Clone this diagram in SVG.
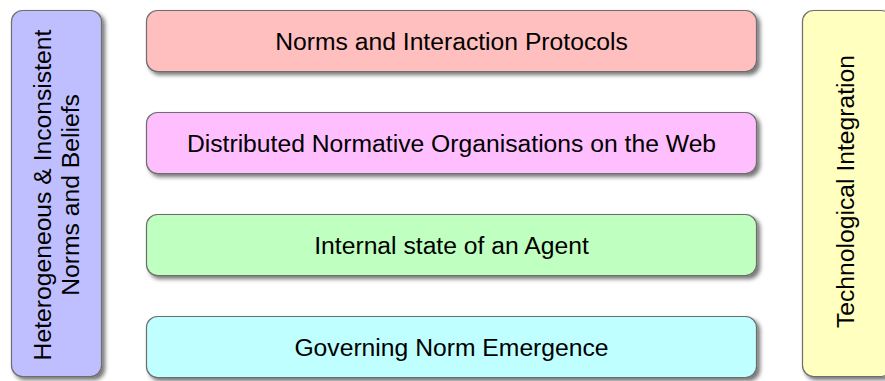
<svg xmlns="http://www.w3.org/2000/svg" width="885" height="381" viewBox="0 0 885 381">
<defs>
<filter id="sh" x="-10%" y="-10%" width="130%" height="140%">
<feDropShadow dx="3" dy="3" stdDeviation="2" flood-color="#000" flood-opacity="0.55"/>
</filter>
<style>
.box{stroke:#6e6e6e;stroke-width:1.2;filter:url(#sh)}
.t{font-family:"Liberation Sans",Arial,Helvetica,sans-serif;font-size:24.7px;fill:#000;text-anchor:middle}
</style>
</defs>
<rect width="885" height="381" fill="#fff"/>
<g id="left">
<rect class="box" x="11.5" y="10.5" width="90" height="366" rx="11" fill="#BFBFFF"/>
<text class="t" transform="translate(51,195) rotate(-90)">Heterogeneous &amp; Inconsistent</text>
<text class="t" transform="translate(79,195) rotate(-90)">Norms and Beliefs</text>
</g>
<g id="norms">
<rect class="box" x="146.5" y="10.5" width="610" height="61" rx="11" fill="#FFBFBF"/>
<text class="t" x="451.5" y="49.5">Norms and Interaction Protocols</text>
</g>
<g id="distributed">
<rect class="box" x="146.5" y="112.5" width="610" height="61" rx="11" fill="#FFBFFF"/>
<text class="t" x="451.5" y="151.5">Distributed Normative Organisations on the Web</text>
</g>
<g id="internal">
<rect class="box" x="146.5" y="214.5" width="610" height="61" rx="11" fill="#BFFFBF"/>
<text class="t" x="451.5" y="253.5">Internal state of an Agent</text>
</g>
<g id="governing">
<rect class="box" x="146.5" y="316.5" width="610" height="61" rx="11" fill="#BFFFFF"/>
<text class="t" x="451.5" y="355.5">Governing Norm Emergence</text>
</g>
<g id="tech">
<rect class="box" x="802.5" y="10.5" width="90" height="366" rx="11" fill="#FFFFBF"/>
<text class="t" transform="translate(854,191.5) rotate(-90)">Technological Integration</text>
</g>
<g id="connectors"></g>
</svg>
